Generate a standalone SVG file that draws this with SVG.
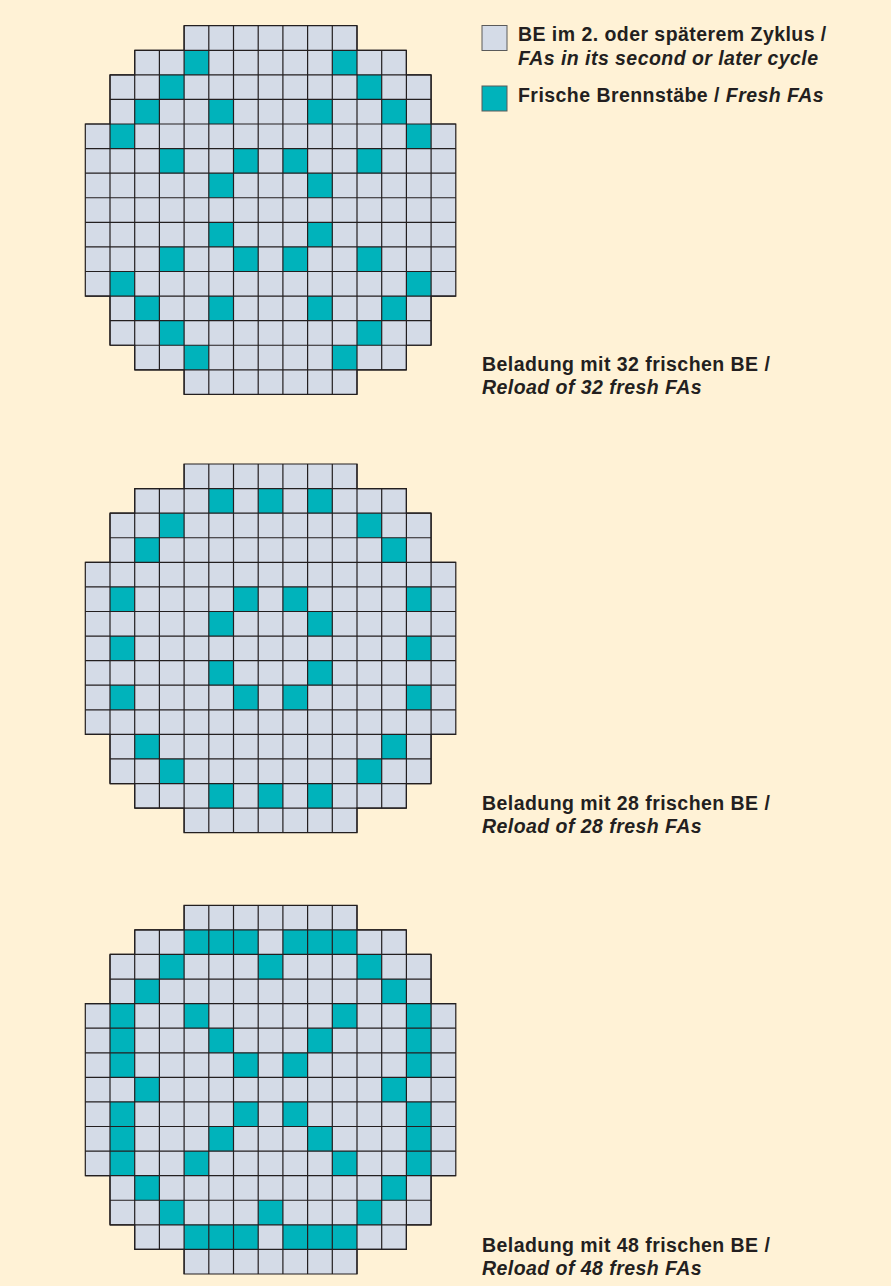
<svg xmlns="http://www.w3.org/2000/svg" width="891" height="1286" viewBox="0 0 891 1286">
<style>
.bg{fill:#FFF2D6}
.base{fill:#D4DBE7}
.t{fill:#00B3BB}
.ln{fill:none;stroke:#231F20;stroke-width:1.2}
.lg{stroke:#5a5a5a;stroke-width:1}
.tx{font-family:"Liberation Sans",Arial,sans-serif;font-weight:bold;font-size:19.5px;letter-spacing:0.45px;fill:#231F20}
.it{font-style:italic}
</style>
<defs>
<polygon id="outline" points="98.8,0 271.7,0 271.7,24.58 321.1,24.58 321.1,49.16 345.8,49.16 345.8,98.32 370.5,98.32 370.5,270.38 345.8,270.38 345.8,319.54 321.1,319.54 321.1,344.12 271.7,344.12 271.7,368.7 98.8,368.7 98.8,344.12 49.4,344.12 49.4,319.54 24.7,319.54 24.7,270.38 0,270.38 0,98.32 24.7,98.32 24.7,49.16 49.4,49.16 49.4,24.58 98.8,24.58"/>
<path id="inner" d="M49.4 24.58H321.1M24.7 49.16H345.8M24.7 73.74H345.8M0 98.32H370.5M0 122.9H370.5M0 147.48H370.5M0 172.06H370.5M0 196.64H370.5M0 221.22H370.5M0 245.8H370.5M0 270.38H370.5M24.7 294.96H345.8M24.7 319.54H345.8M49.4 344.12H321.1M24.7 49.16V319.54M49.4 24.58V344.12M74.1 24.58V344.12M98.8 0V368.7M123.5 0V368.7M148.2 0V368.7M172.9 0V368.7M197.6 0V368.7M222.3 0V368.7M247 0V368.7M271.7 0V368.7M296.4 24.58V344.12M321.1 24.58V344.12M345.8 49.16V319.54"/>
</defs>
<rect class="bg" x="0" y="0" width="891" height="1286"/>

<g id="core-32" transform="translate(85.3,25.7)">
<use href="#outline" class="base"/>
<g class="t" transform="scale(24.7,24.58)">
<rect x="4" y="1" width="1" height="1"/><rect x="10" y="1" width="1" height="1"/>
<rect x="3" y="2" width="1" height="1"/><rect x="11" y="2" width="1" height="1"/>
<rect x="2" y="3" width="1" height="1"/><rect x="5" y="3" width="1" height="1"/><rect x="9" y="3" width="1" height="1"/><rect x="12" y="3" width="1" height="1"/>
<rect x="1" y="4" width="1" height="1"/><rect x="13" y="4" width="1" height="1"/>
<rect x="3" y="5" width="1" height="1"/><rect x="6" y="5" width="1" height="1"/><rect x="8" y="5" width="1" height="1"/><rect x="11" y="5" width="1" height="1"/>
<rect x="5" y="6" width="1" height="1"/><rect x="9" y="6" width="1" height="1"/>
<rect x="5" y="8" width="1" height="1"/><rect x="9" y="8" width="1" height="1"/>
<rect x="3" y="9" width="1" height="1"/><rect x="6" y="9" width="1" height="1"/><rect x="8" y="9" width="1" height="1"/><rect x="11" y="9" width="1" height="1"/>
<rect x="1" y="10" width="1" height="1"/><rect x="13" y="10" width="1" height="1"/>
<rect x="2" y="11" width="1" height="1"/><rect x="5" y="11" width="1" height="1"/><rect x="9" y="11" width="1" height="1"/><rect x="12" y="11" width="1" height="1"/>
<rect x="3" y="12" width="1" height="1"/><rect x="11" y="12" width="1" height="1"/>
<rect x="4" y="13" width="1" height="1"/><rect x="10" y="13" width="1" height="1"/>
</g>
<use href="#inner" class="ln"/>
<use href="#outline" class="ln"/>
</g>

<g id="core-28" transform="translate(85.3,464)">
<use href="#outline" class="base"/>
<g class="t" transform="scale(24.7,24.58)">
<rect x="5" y="1" width="1" height="1"/><rect x="7" y="1" width="1" height="1"/><rect x="9" y="1" width="1" height="1"/>
<rect x="3" y="2" width="1" height="1"/><rect x="11" y="2" width="1" height="1"/>
<rect x="2" y="3" width="1" height="1"/><rect x="12" y="3" width="1" height="1"/>
<rect x="1" y="5" width="1" height="1"/><rect x="6" y="5" width="1" height="1"/><rect x="8" y="5" width="1" height="1"/><rect x="13" y="5" width="1" height="1"/>
<rect x="5" y="6" width="1" height="1"/><rect x="9" y="6" width="1" height="1"/>
<rect x="1" y="7" width="1" height="1"/><rect x="13" y="7" width="1" height="1"/>
<rect x="5" y="8" width="1" height="1"/><rect x="9" y="8" width="1" height="1"/>
<rect x="1" y="9" width="1" height="1"/><rect x="6" y="9" width="1" height="1"/><rect x="8" y="9" width="1" height="1"/><rect x="13" y="9" width="1" height="1"/>
<rect x="2" y="11" width="1" height="1"/><rect x="12" y="11" width="1" height="1"/>
<rect x="3" y="12" width="1" height="1"/><rect x="11" y="12" width="1" height="1"/>
<rect x="5" y="13" width="1" height="1"/><rect x="7" y="13" width="1" height="1"/><rect x="9" y="13" width="1" height="1"/>
</g>
<use href="#inner" class="ln"/>
<use href="#outline" class="ln"/>
</g>

<g id="core-48" transform="translate(85.3,905.3)">
<use href="#outline" class="base"/>
<g class="t" transform="scale(24.7,24.58)">
<rect x="4" y="1" width="3" height="1"/><rect x="8" y="1" width="3" height="1"/>
<rect x="3" y="2" width="1" height="1"/><rect x="7" y="2" width="1" height="1"/><rect x="11" y="2" width="1" height="1"/>
<rect x="2" y="3" width="1" height="1"/><rect x="12" y="3" width="1" height="1"/>
<rect x="1" y="4" width="1" height="3"/><rect x="13" y="4" width="1" height="3"/>
<rect x="4" y="4" width="1" height="1"/><rect x="10" y="4" width="1" height="1"/>
<rect x="5" y="5" width="1" height="1"/><rect x="9" y="5" width="1" height="1"/>
<rect x="6" y="6" width="1" height="1"/><rect x="8" y="6" width="1" height="1"/>
<rect x="2" y="7" width="1" height="1"/><rect x="12" y="7" width="1" height="1"/>
<rect x="1" y="8" width="1" height="3"/><rect x="13" y="8" width="1" height="3"/>
<rect x="6" y="8" width="1" height="1"/><rect x="8" y="8" width="1" height="1"/>
<rect x="5" y="9" width="1" height="1"/><rect x="9" y="9" width="1" height="1"/>
<rect x="4" y="10" width="1" height="1"/><rect x="10" y="10" width="1" height="1"/>
<rect x="2" y="11" width="1" height="1"/><rect x="12" y="11" width="1" height="1"/>
<rect x="3" y="12" width="1" height="1"/><rect x="7" y="12" width="1" height="1"/><rect x="11" y="12" width="1" height="1"/>
<rect x="4" y="13" width="3" height="1"/><rect x="8" y="13" width="3" height="1"/>
</g>
<use href="#inner" class="ln"/>
<use href="#outline" class="ln"/>
</g>

<g id="legend-old">
<rect class="base lg" x="482" y="25.5" width="25" height="25"/>
<text class="tx" x="518" y="41">BE im 2. oder späterem Zyklus /</text>
<text class="tx it" x="518" y="65">FAs in its second or later cycle</text>
</g>
<g id="legend-fresh">
<rect class="t lg" x="482" y="86" width="25" height="25"/>
<text class="tx" x="518" y="102">Frische Brennstäbe / <tspan class="it">Fresh FAs</tspan></text>
</g>

<g id="caption-32">
<text class="tx" x="482" y="371">Beladung mit 32 frischen BE /</text>
<text class="tx it" x="482" y="394">Reload of 32 fresh FAs</text>
</g>
<g id="caption-28">
<text class="tx" x="482" y="809.5">Beladung mit 28 frischen BE /</text>
<text class="tx it" x="482" y="833">Reload of 28 fresh FAs</text>
</g>
<g id="caption-48">
<text class="tx" x="482" y="1251.7">Beladung mit 48 frischen BE /</text>
<text class="tx it" x="482" y="1275">Reload of 48 fresh FAs</text>
</g>
</svg>
